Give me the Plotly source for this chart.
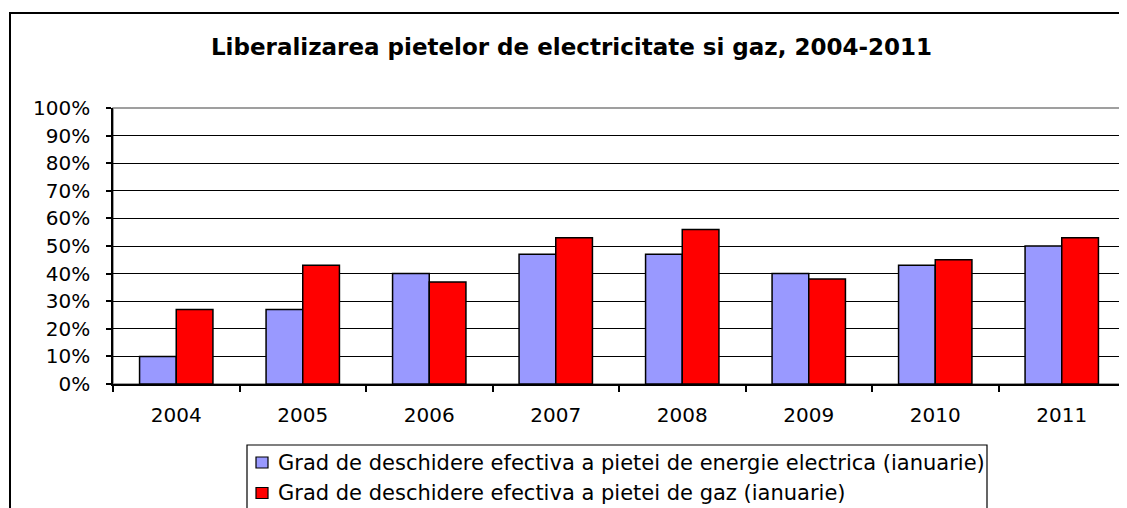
import plotly.graph_objects as go

years = ["2004", "2005", "2006", "2007", "2008", "2009", "2010", "2011"]
electric = [10, 27, 40, 47, 47, 40, 43, 50]
gas = [27, 43, 37, 53, 56, 38, 45, 53]
y_ticks = [0, 10, 20, 30, 40, 50, 60, 70, 80, 90, 100]
y_labels = [f"{v}%" for v in y_ticks]
series_names = ["Grad de deschidere efectiva a pietei de energie electrica (ianuarie)",
                "Grad de deschidere efectiva a pietei de gaz (ianuarie)"]
series_colors = ["#9999FF", "#FF0000"]
title = "Liberalizarea pietelor de electricitate si gaz, 2004-2011"

FONT = "DejaVu Sans, Liberation Sans, Arial, sans-serif"
OFF = 8  # page body margin
W, H = 1127 - OFF, 508 - OFF
L, R, T, B = 113 - OFF, 2, 108 - OFF, 124
pw, ph = W - L - R, H - T - B


def px(x):  # page x -> paper x
    return (x - OFF - L) / pw


def py(y):  # page y -> paper y
    return (H - B - (y - OFF)) / ph


fig = go.Figure()
for name, vals, col in zip(series_names, [electric, gas], series_colors):
    fig.add_trace(go.Bar(x=years, y=vals, name=name, showlegend=False,
                         marker=dict(color=col, line=dict(color="black", width=1.5))))

shapes = [
    dict(type="rect", xref="paper", yref="paper", x0=0, x1=1, y0=0, y1=1,
         line=dict(color="#808080", width=1.5), fillcolor="rgba(0,0,0,0)", layer="below"),
    dict(type="rect", xref="paper", yref="paper", x0=px(10), x1=px(1150),
         y0=py(540), y1=py(13), line=dict(color="black", width=2),
         fillcolor="rgba(0,0,0,0)"),
    dict(type="rect", xref="paper", yref="paper", x0=px(247), x1=px(987),
         y0=py(540), y1=py(445), line=dict(color="black", width=1.2),
         fillcolor="white"),
]
annotations = []
row_y = [462.5, 493]
for name, col, ry in zip(series_names, series_colors, row_y):
    shapes.append(dict(type="rect", xref="paper", yref="paper",
                       x0=px(256), x1=px(268), y0=py(ry + 5.5), y1=py(ry - 5.5),
                       line=dict(color="black", width=1.2), fillcolor=col))
    annotations.append(dict(text=name, xref="paper", yref="paper", x=px(276), y=py(ry),
                            xanchor="left", yanchor="middle", showarrow=False,
                            font=dict(size=21, family=FONT, color="black")))

fig.update_layout(
    width=W, height=H,
    margin=dict(l=L, r=R, t=T, b=B),
    paper_bgcolor="white", plot_bgcolor="white",
    font=dict(family=FONT, size=20, color="black"),
    barmode="group", bargap=0.42, bargroupgap=0,
    title=dict(text="<b>" + title + "</b>", xref="container", x=(571.5 - OFF) / W,
               xanchor="center", yref="container", y=1 - (46.5 - OFF) / H,
               yanchor="middle", font=dict(size=23, family=FONT)),
    showlegend=False,
    xaxis=dict(type="category", showline=True, linecolor="black", linewidth=1.5,
               ticks="outside", tickson="boundaries", ticklen=6, tickcolor="black",
               tickwidth=1.5, showgrid=False, ticklabelstandoff=12),
    yaxis=dict(range=[0, 100], tickvals=y_ticks, ticktext=y_labels, showline=True,
               linecolor="black", linewidth=1.5, ticks="outside", ticklen=5,
               tickcolor="black", tickwidth=1.5, showgrid=True, gridcolor="black",
               gridwidth=1, zeroline=False, ticklabelstandoff=12),
    shapes=shapes,
    annotations=annotations,
)

fig.write_html("out.html")
